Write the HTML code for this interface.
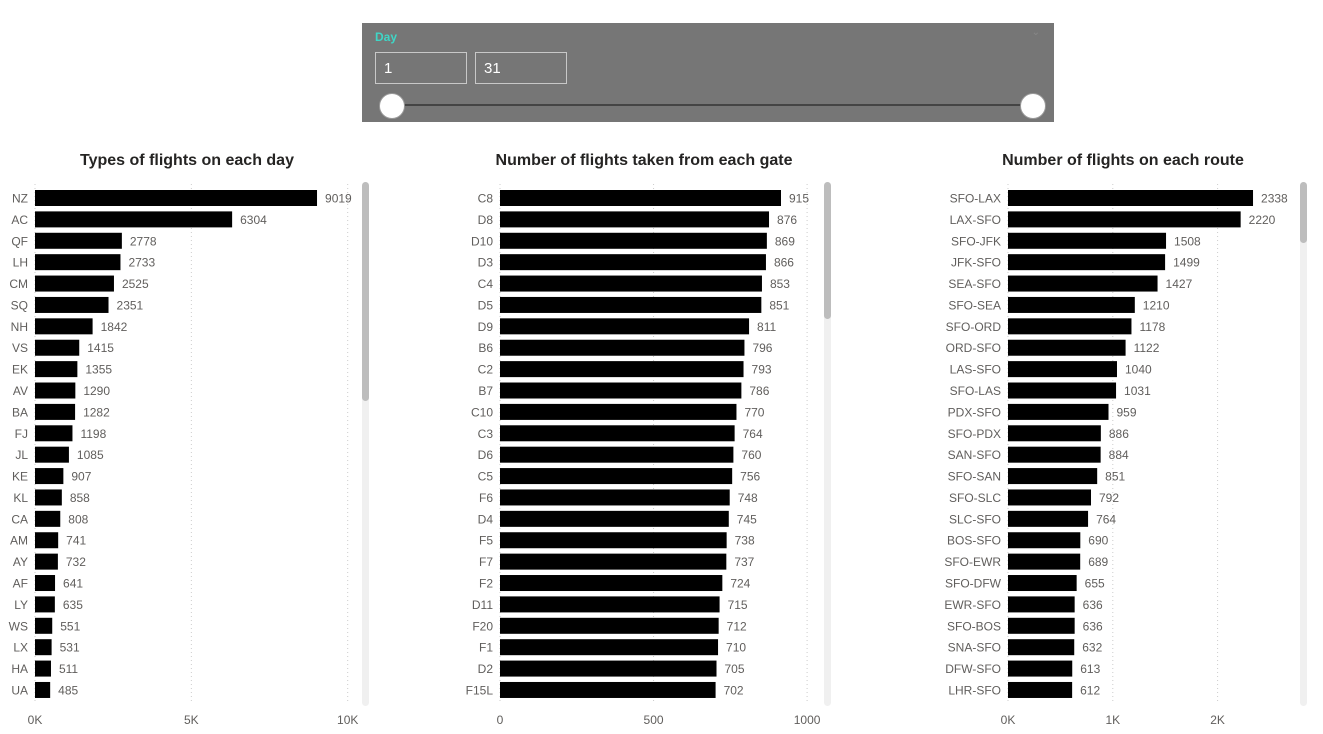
<!DOCTYPE html>
<html><head><meta charset="utf-8"><style>
body{margin:0;width:1323px;height:734px;background:#fff;font-family:"Liberation Sans",sans-serif;overflow:hidden;position:relative}
#slicer{position:absolute;left:362px;top:23px;width:692px;height:99px;background:#767676}
.box{position:absolute;top:29px;width:92px;height:32px;border:1px solid #c8c8c8;color:#fff;font-size:15px;line-height:32px;padding-left:8px;box-sizing:border-box}
.knob{position:absolute;top:70px;width:24px;height:24px;border-radius:50%;background:#fff;border:1px solid #999}
</style></head><body>
<div id="slicer">
<div style="position:absolute;left:13px;top:7px;color:#3fd6c6;font-weight:bold;font-size:12px">Day</div>
<div style="position:absolute;right:14px;top:4px;color:#888;font-size:10px">⌄</div>
<div class="box" style="left:13px">1</div>
<div class="box" style="left:113px">31</div>
<div style="position:absolute;left:29px;top:81px;width:641px;height:2px;background:#444"></div>
<div class="knob" style="left:17px"></div>
<div class="knob" style="left:658px"></div>
</div>
<svg id="svg" width="1323" height="734" style="position:absolute;left:0;top:0;pointer-events:none" xmlns="http://www.w3.org/2000/svg"></svg>
<script>
const c1Cats=["NZ","AC","QF","LH","CM","SQ","NH","VS","EK","AV","BA","FJ","JL","KE","KL","CA","AM","AY","AF","LY","WS","LX","HA","UA"];
const c1Vals=[9019,6304,2778,2733,2525,2351,1842,1415,1355,1290,1282,1198,1085,907,858,808,741,732,641,635,551,531,511,485];
const c1Ticks=[0,5000,10000];const c1TickLabels=["0K","5K","10K"];
const c2Cats=["C8","D8","D10","D3","C4","D5","D9","B6","C2","B7","C10","C3","D6","C5","F6","D4","F5","F7","F2","D11","F20","F1","D2","F15L"];
const c2Vals=[915,876,869,866,853,851,811,796,793,786,770,764,760,756,748,745,738,737,724,715,712,710,705,702];
const c2Ticks=[0,500,1000];const c2TickLabels=["0","500","1000"];
const c3Cats=["SFO-LAX","LAX-SFO","SFO-JFK","JFK-SFO","SEA-SFO","SFO-SEA","SFO-ORD","ORD-SFO","LAS-SFO","SFO-LAS","PDX-SFO","SFO-PDX","SAN-SFO","SFO-SAN","SFO-SLC","SLC-SFO","BOS-SFO","SFO-EWR","SFO-DFW","EWR-SFO","SFO-BOS","SNA-SFO","DFW-SFO","LHR-SFO"];
const c3Vals=[2338,2220,1508,1499,1427,1210,1178,1122,1040,1031,959,886,884,851,792,764,690,689,655,636,636,632,613,612];
const c3Ticks=[0,1000,2000];const c3TickLabels=["0K","1K","2K"];
const svg=document.getElementById('svg');const NS="http://www.w3.org/2000/svg";
function mk(t,a,p){const e=document.createElementNS(NS,t);for(const k in a)e.setAttribute(k,a[k]);(p||svg).appendChild(e);return e;}
function chart(name,title,titleX,cats,vals,ticks,tlabels,x0,pxPer,sbX,thumbH){
 const g=mk('g',{});
 
 
 const x=v=>x0+v*pxPer;const y=i=>198+i*21.39;
 const t=mk('text',{x:titleX,y:165,'text-anchor':'middle','font-size':16,'font-weight':'bold',fill:'#252423'},g);t.textContent=title;
 
 
 ticks.forEach((tv,i)=>{
  const l=mk('line',{x1:x(tv),x2:x(tv),y1:184,y2:704,stroke:'#ccc','stroke-dasharray':'1,3'},g);
  
  
  const tt=mk('text',{x:x(tv),y:724,'text-anchor':'middle','font-size':12,fill:'#605e5c'},g);tt.textContent=tlabels[i];
  
  
 });
 cats.forEach((c,i)=>{
  const lb=mk('text',{x:x0-7,y:y(i)+4.5,'text-anchor':'end','font-size':12,fill:'#605e5c'},g);lb.textContent=c;
  
  
  const r=mk('rect',{x:x0,y:y(i)-8,width:x(vals[i])-x0,height:16,fill:'#000'},g);
  
  
  const v=mk('text',{x:x(vals[i])+8,y:y(i)+4.5,'font-size':12,fill:'#605e5c'},g);v.textContent=vals[i];
  
  
 });
 const tr=mk('rect',{x:sbX,y:182,width:7,height:524,rx:3.5,fill:'#f0f0f0'},g);
 
 
 const th=mk('rect',{x:sbX,y:182,width:7,height:thumbH,rx:3.5,fill:'#bdbdbd'},g);
 
 
}
chart('flight-types-chart','Types of flights on each day',187,c1Cats,c1Vals,c1Ticks,c1TickLabels,35,0.03127,362,219);
chart('gate-flights-chart','Number of flights taken from each gate',644,c2Cats,c2Vals,c2Ticks,c2TickLabels,500,0.3071,824,137);
chart('route-flights-chart','Number of flights on each route',1123,c3Cats,c3Vals,c3Ticks,c3TickLabels,1008,0.1048,1300,61);
</script>
</body></html>
